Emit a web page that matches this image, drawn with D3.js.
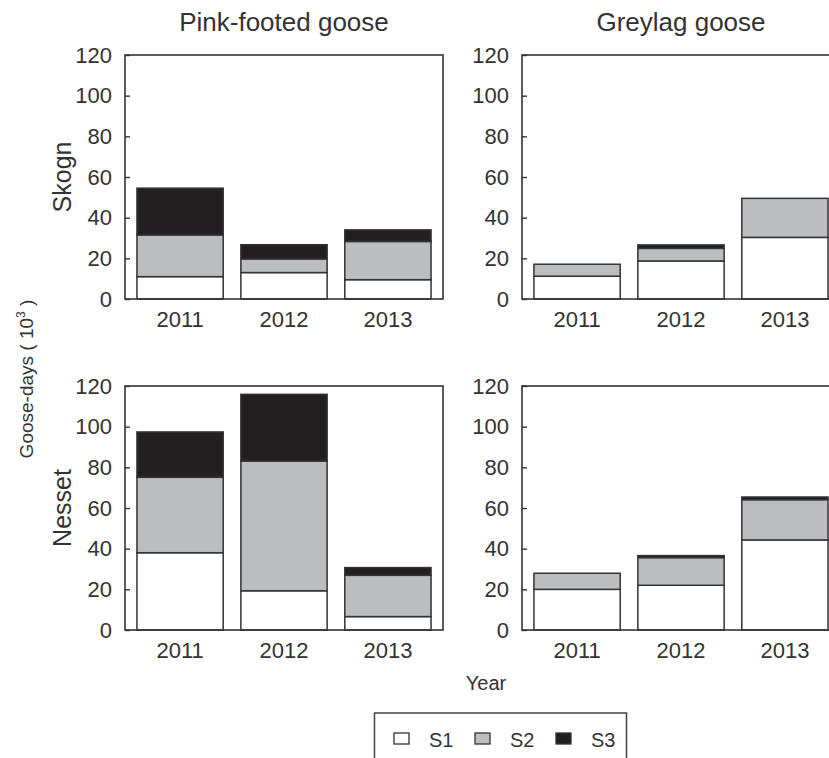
<!DOCTYPE html>
<html>
<head>
<meta charset="utf-8">
<script src="https://cdn.jsdelivr.net/npm/d3@7/dist/d3.min.js"></script>
<style>
  html, body { margin: 0; padding: 0; background: #fff; }
  svg { display: block; }
  text { font-family: "Liberation Sans", Arial, Helvetica, sans-serif; fill: #333; }
</style>
</head>
<body>
<svg id="chart" width="829" height="758"></svg>
<script>
// ---- Data ----
const years = ["2011", "2012", "2013"];
const seriesKeys = ["S1", "S2", "S3"];
const species = ["Pink-footed goose", "Greylag goose"];
const sites = ["Skogn", "Nesset"];
const yTicks = [0, 20, 40, 60, 80, 100, 120];

// goose-days (10^3) per season segment, one array per series
const pinkSkognS1 = [11, 13, 9.5];
const pinkSkognS2 = [20.5, 6.7, 18.8];
const pinkSkognS3 = [23, 7, 5.7];

const greySkognS1 = [11.2, 18.7, 30.3];
const greySkognS2 = [5.9, 6.2, 19.2];
const greySkognS3 = [0, 1.7, 0];

const pinkNessetS1 = [38, 19.3, 6.6];
const pinkNessetS2 = [37.1, 63.8, 20.3];
const pinkNessetS3 = [22.3, 32.8, 3.8];

const greyNessetS1 = [20, 22, 44.3];
const greyNessetS2 = [7.9, 13.6, 19.8];
const greyNessetS3 = [0, 1, 1.3];

const panelsData = [
  { site: 0, sp: 0, s: [pinkSkognS1, pinkSkognS2, pinkSkognS3] },
  { site: 0, sp: 1, s: [greySkognS1, greySkognS2, greySkognS3] },
  { site: 1, sp: 0, s: [pinkNessetS1, pinkNessetS2, pinkNessetS3] },
  { site: 1, sp: 1, s: [greyNessetS1, greyNessetS2, greyNessetS3] }
];

// ---- Layout ----
const colors = { S1: "#ffffff", S2: "#bcbdc0", S3: "#231f20" };
const stroke = "#333";
const panelW = 318, panelH = 244;
const colX = [125, 522];
const rowY = [55, 386];

const svg = d3.select("#chart");

const x = d3.scaleBand().domain(years).range([0, panelW]).paddingInner(0.17).paddingOuter(0.115);
const y = d3.scaleLinear().domain([0, 120]).range([panelH, 0]);
const stack = d3.stack().keys(seriesKeys);

panelsData.forEach(p => {
  const g = svg.append("g").attr("transform", `translate(${colX[p.sp]},${rowY[p.site]})`);
  const rows = years.map((yr, i) => ({ year: yr, S1: p.s[0][i], S2: p.s[1][i], S3: p.s[2][i] }));
  const stacked = stack(rows);

  stacked.forEach(layer => {
    g.selectAll(null).data(layer.filter(d => d[1] - d[0] > 0)).enter().append("rect")
      .attr("x", d => x(d.data.year))
      .attr("width", x.bandwidth())
      .attr("y", d => y(d[1]))
      .attr("height", d => y(d[0]) - y(d[1]))
      .attr("fill", colors[layer.key])
      .attr("stroke", stroke)
      .attr("stroke-width", 1.5);
  });

  // frame
  g.append("rect").attr("x", 0).attr("y", 0).attr("width", panelW).attr("height", panelH)
    .attr("fill", "none").attr("stroke", stroke).attr("stroke-width", 1.6);

  // y axis (inward ticks)
  const ya = g.append("g").call(d3.axisLeft(y).tickValues(yTicks).tickSize(-5).tickPadding(13));
  ya.select(".domain").remove();
  ya.selectAll(".tick line").attr("stroke", stroke).attr("stroke-width", 1.4);
  ya.selectAll(".tick text").attr("font-size", 22).attr("fill", "#333")
    .style("font-family", "'Liberation Sans', Arial, sans-serif");

  // x axis
  const xa = g.append("g").attr("transform", `translate(0,${panelH})`)
    .call(d3.axisBottom(x).tickSize(0).tickPadding(12));
  xa.select(".domain").remove();
  xa.selectAll(".tick text").attr("font-size", 22).attr("fill", "#333")
    .style("font-family", "'Liberation Sans', Arial, sans-serif");
});

// column titles
species.forEach((s, i) => {
  svg.append("text").attr("x", colX[i] + panelW / 2).attr("y", 31)
    .attr("text-anchor", "middle").attr("font-size", 26).text(s);
});

// row labels
sites.forEach((s, i) => {
  svg.append("text")
    .attr("transform", `translate(71,${rowY[i] + panelH / 2}) rotate(-90)`)
    .attr("text-anchor", "middle").attr("font-size", 25).text(s);
});

// y axis title
const yt = svg.append("text")
  .attr("transform", `translate(33,379) rotate(-90)`)
  .attr("text-anchor", "middle").attr("font-size", 19);
yt.append("tspan").text("Goose-days ( 10");
yt.append("tspan").attr("dy", -8).attr("font-size", 12).text("3");
yt.append("tspan").attr("dy", 8).text(" )");

// x axis title
svg.append("text").attr("x", 486).attr("y", 690).attr("text-anchor", "middle")
  .attr("font-size", 20).text("Year");

// legend
const lg = svg.append("g");
lg.append("rect").attr("x", 374.5).attr("y", 713).attr("width", 252).attr("height", 60)
  .attr("fill", "#fff").attr("stroke", "#444").attr("stroke-width", 1.5);
const legX = [394, 475, 556];
seriesKeys.forEach((k, i) => {
  lg.append("rect").attr("x", legX[i]).attr("y", 733).attr("width", 15).attr("height", 11)
    .attr("fill", colors[k]).attr("stroke", stroke).attr("stroke-width", 1.3);
  lg.append("text").attr("x", legX[i] + 35).attr("y", 747).attr("font-size", 20).text(k);
});
</script>
</body>
</html>
